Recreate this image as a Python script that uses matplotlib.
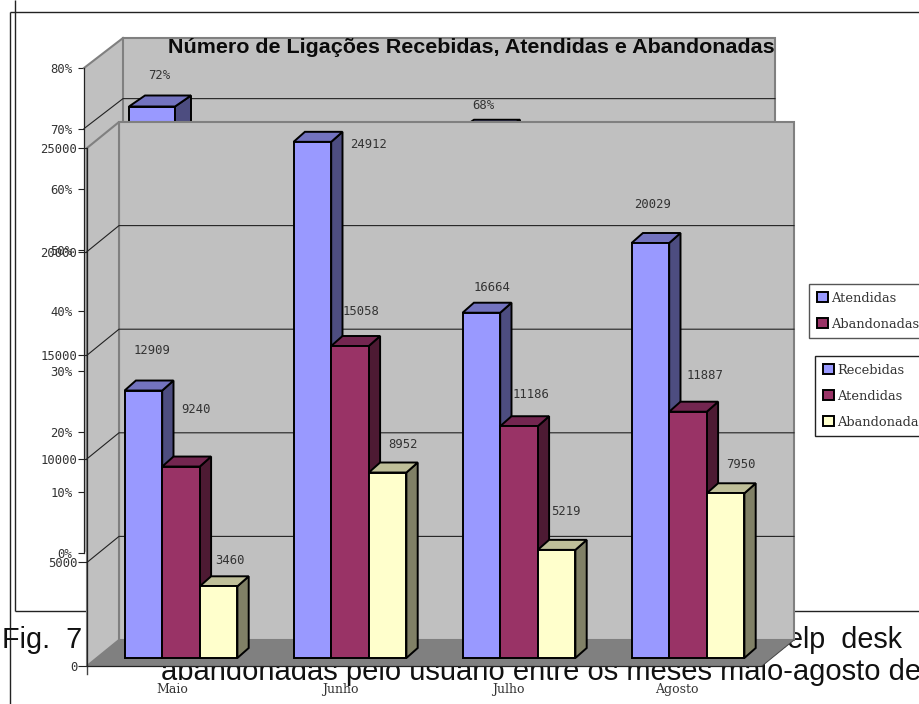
import matplotlib
matplotlib.use("Agg")
import matplotlib.pyplot as plt
from matplotlib.patches import Patch, Polygon

# Call volumes per month
months = ["Maio", "Junho", "Julho", "Agosto"]
recebidas = [12909, 24912, 16664, 20029]
atendidas = [9240, 15058, 11186, 11887]
abandonadas = [3460, 8952, 5219, 7950]

# Share chart sitting behind the volume chart
pct_months = ["Maio", "Julho"]
pct_values = [72, 68]
pct_ticks = [0, 10, 20, 30, 40, 50, 60, 70, 80]
volume_ticks = [0, 5000, 10000, 15000, 20000, 25000]

W, H = 920, 704
BLUE = ("#9999FF", "#7373BF", "#4D4D80")
WINE = ("#993366", "#732650", "#4D1A33")
CREAM = ("#FFFFCC", "#BFBF99", "#808066")
WALL, FLOOR, RIM = "#C0C0C0", "#808080", "#808080"
INK = "#333333"
NUM = "DejaVu Sans Mono"
SERIF = "DejaVu Serif"
SANS = "Liberation Sans"
EDGE = 1.4

fig = plt.figure(figsize=(W / 100, H / 100), dpi=100, facecolor="white")


def frame(x0, y_bottom, x1, y_top, z):
    """Axes covering a rectangle given in image pixels."""
    a = fig.add_axes([x0 / W, 1 - y_bottom / H, (x1 - x0) / W, (y_bottom - y_top) / H], zorder=z)
    a.patch.set_visible(False)
    return a


# Page layer: document rules and running text
page = frame(0, H, W, 0, 0)
page.set_xlim(0, W)
page.set_ylim(H, 0)
page.axis("off")
for xs, ys in [([15, 15], [0, 611]), ([10, 920], [12, 12]), ([10, 10], [12, 704]), ([15, 920], [611, 611])]:
    page.plot(xs, ys, color="#222222", lw=1.0, solid_capstyle="butt")
page.text(2, 648, "Fig.  7", family=SANS, fontsize=20.7, color="#111111", va="baseline")
page.text(902, 648, "help  desk", family=SANS, fontsize=20.7, color="#111111", va="baseline", ha="right")
page.text(161, 680, "abandonadas pelo usuário entre os meses maio-agosto de", family=SANS,
          fontsize=21, color="#111111", va="baseline")

# Back chart: percentages
back = frame(84, 553, 736, 68, 1)
back.set_xlim((84 - 152) / 164.5, (736 - 152) / 164.5)
back.set_ylim(0, 80)
ux, uy = 1 / 164.5, 80 / 485
bx0, bx1 = back.get_xlim()
wall_dx, wall_dy = 39 * ux, 30 * uy
back.add_patch(Polygon([(bx0, 0), (bx0 + wall_dx, wall_dy), (bx0 + wall_dx, 80 + wall_dy), (bx0, 80)],
                       closed=True, fc=WALL, ec="none", clip_on=False, zorder=1))
back.add_patch(Polygon([(bx0 + wall_dx, wall_dy), (bx1 + wall_dx, wall_dy), (bx1 + wall_dx, 80 + wall_dy),
                        (bx0 + wall_dx, 80 + wall_dy)],
                       closed=True, fc=WALL, ec=RIM, lw=1.5, clip_on=False, zorder=1))
back.plot([bx0, bx0 + wall_dx], [80, 80 + wall_dy], color=RIM, lw=1.5, clip_on=False, zorder=2)
back.plot([bx0, bx0 + wall_dx, bx1 + wall_dx], [70, 70 + wall_dy, 70 + wall_dy],
          color="#222222", lw=0.8, clip_on=False, zorder=2)

bar_w = 46 * ux
base = 10 * uy
d_x, d_y = 16 * ux, 11 * uy
pct_label_shift = [(7, 31), (2, 25)]
for m, v, (sx, sy) in zip(pct_months, pct_values, pct_label_shift):
    xc = months.index(m)
    x0, x1 = xc - bar_w / 2, xc + bar_w / 2
    top = base + v
    back.bar(xc, v, bar_w, bottom=base, color=BLUE[0], edgecolor="black", lw=EDGE, zorder=3)
    back.add_patch(Polygon([(x1, base), (x1 + d_x, base + d_y), (x1 + d_x, top + d_y), (x1, top)],
                           closed=True, fc=BLUE[2], ec="black", lw=EDGE, zorder=3))
    back.add_patch(Polygon([(x0, top), (x1, top), (x1 + d_x, top + d_y), (x0 + d_x, top + d_y)],
                           closed=True, fc=BLUE[1], ec="black", lw=EDGE, clip_on=False, zorder=3))
    back.annotate(f"{v}%", (xc, top), xytext=(sx, sy), textcoords="offset pixels", family=NUM,
                  fontsize=8.8, color=INK, ha="center", va="center", zorder=3)

back.set_yticks(pct_ticks, [f"{t}%" for t in pct_ticks], family=NUM, fontsize=8.8, color=INK)
back.tick_params(axis="y", length=4.5, width=0.8, color="#222222", pad=4)
back.set_xticks([])
for name, sp in back.spines.items():
    sp.set_visible(name == "left")
back.spines["left"].set_linewidth(0.9)
back.spines["left"].set_color("#222222")
back.text(168, 53, "Número de Ligações Recebidas, Atendidas e Abandonadas", transform=page.transData,
          family=SANS, fontweight="bold", fontsize=15.45, color="#0A0A0A", va="baseline", zorder=5)
legend_style = dict(loc="upper left", bbox_transform=fig.transFigure, borderaxespad=0, fancybox=False,
                    framealpha=1, borderpad=0.58, labelspacing=1.0, handlelength=0.85, handleheight=0.85,
                    handletextpad=0.25, prop={"family": SERIF, "size": 9.4}, labelcolor=INK)
back.legend(handles=[Patch(fc=BLUE[0], ec="black", lw=EDGE), Patch(fc=WINE[0], ec="black", lw=EDGE)],
            labels=["Atendidas", "Abandonadas"], bbox_to_anchor=(809 / W, 1 - 284 / H),
            edgecolor="#555555", **legend_style)

# Front chart: call volumes
ax = frame(87, 666, 762, 148, 2)
x_left, x_right = (87 - 181) / 169, (762 - 181) / 169
ax.set_xlim(x_left, x_right)
ax.set_ylim(0, 25000)
px_x, px_y = 1 / 169, 25000 / 518
dx, dy = 32 * px_x, 26 * px_y

ax.add_patch(Polygon([(x_left + dx, dy), (x_right + dx, dy), (x_right + dx, 25000 + dy), (x_left + dx, 25000 + dy)],
                     closed=True, fc=WALL, ec=RIM, lw=1.5, clip_on=False, zorder=1))
ax.add_patch(Polygon([(x_left, 0), (x_left + dx, dy), (x_left + dx, 25000 + dy), (x_left, 25000)],
                     closed=True, fc=WALL, ec=RIM, lw=1.5, clip_on=False, zorder=1))
ax.add_patch(Polygon([(x_left, 0), (x_right, 0), (x_right + dx, dy), (x_left + dx, dy)],
                     closed=True, fc=FLOOR, ec="none", clip_on=False, zorder=1.5))
ax.plot([x_right, x_right + dx], [0, dy], color="#444444", lw=0.7, clip_on=False, zorder=1.6)
for t in volume_ticks[1:-1]:
    ax.plot([x_left, x_left + dx, x_right + dx], [t, t + dy, t + dy], color="#222222", lw=0.8,
            clip_on=False, zorder=2)
ax.plot([x_left, x_left], [0, -8 * px_y], color="#444444", lw=1.0, clip_on=False, zorder=2)

w = 37.6 * px_x
off = 8 * px_y
bd_x, bd_y = 11.3 * px_x, 10 * px_y
series = [(recebidas, BLUE, -1), (atendidas, WINE, 0), (abandonadas, CREAM, 1)]
# pixel offsets of each value label from the top centre of its bar's front face
label_shift = [
    [(9, 40), (56, -3), (11, 25), (2, 38)],
    [(15, 57), (11, 34), (12, 32), (17, 36)],
    [(11, 26), (15, 28), (9, 38), (15, 29)],
]
for k, (vals, cols, pos) in enumerate(series):
    for i, v in enumerate(vals):
        xc = i + pos * w
        x0, x1 = xc - w / 2, xc + w / 2
        top = off + v
        ax.add_patch(Polygon([(x1, off), (x1 + bd_x, off + bd_y), (x1 + bd_x, top + bd_y), (x1, top)],
                             closed=True, fc=cols[2], ec="black", lw=EDGE, zorder=3 + k, clip_on=False))
        ax.add_patch(Polygon([(x0, top), (x1, top), (x1 + bd_x, top + bd_y), (x0 + bd_x, top + bd_y)],
                             closed=True, fc=cols[1], ec="black", lw=EDGE, zorder=3 + k, clip_on=False))
        ax.bar(xc, v, w, bottom=off, color=cols[0], edgecolor="black", lw=EDGE, zorder=3 + k, clip_on=False)
        sx, sy = label_shift[k][i]
        ax.annotate(str(v), (xc, top), xytext=(sx, sy), textcoords="offset pixels", family=NUM,
                    fontsize=8.8, color=INK, ha="center", va="center", zorder=8, annotation_clip=False)

ax.set_yticks(volume_ticks, [str(t) for t in volume_ticks], family=NUM, fontsize=8.8, color=INK)
ax.tick_params(axis="y", length=6.5, width=0.8, color="#222222", pad=0.5)
ax.set_xticks([(172 + 168.3 * i - 181) / 169 for i in range(4)], months, family=SERIF, fontsize=9, color=INK)
ax.tick_params(axis="x", length=0, pad=12)
for name, sp in ax.spines.items():
    sp.set_visible(name in ("left", "bottom"))
    sp.set_linewidth(0.9)
    sp.set_color("#222222")
    sp.set_zorder(2)
ax.legend(handles=[Patch(fc=c[0], ec="black", lw=EDGE) for c in (BLUE, WINE, CREAM)],
          labels=["Recebidas", "Atendidas", "Abandonadas"], bbox_to_anchor=(815 / W, 1 - 356 / H),
          edgecolor="#222222", **legend_style)

fig.savefig("out.png", dpi=100)
